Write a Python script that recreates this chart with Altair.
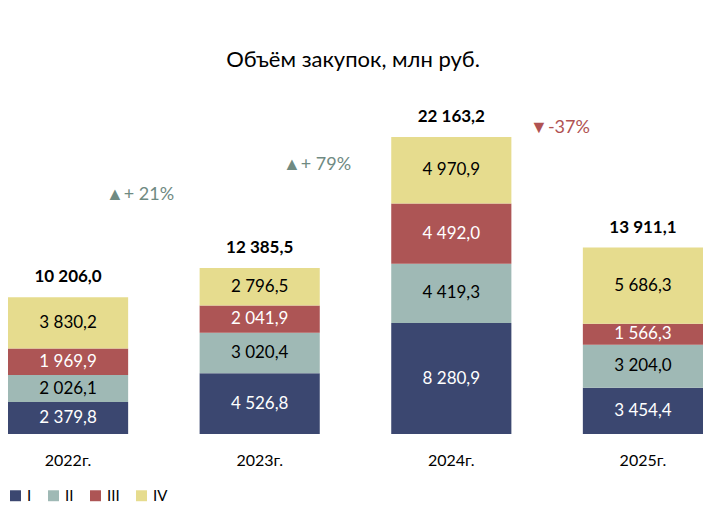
import altair as alt
import pandas as pd

years = ["2022г.", "2023г.", "2024г.", "2025г."]
quarters = ["I", "II", "III", "IV"]
q1 = [2379.8, 4526.8, 8280.9, 3454.4]
q2 = [2026.1, 3020.4, 4419.3, 3204.0]
q3 = [1969.9, 2041.9, 4492.0, 1566.3]
q4 = [3830.2, 2796.5, 4970.9, 5686.3]
totals = [10206.0, 12385.5, 22163.2, 13911.1]
colors = ["#3b4770", "#9fb9b5", "#ad5555", "#e6dc8e"]


def fmt(v):
    s = f"{v:,.1f}"
    return s.replace(",", " ").replace(".", ",")


rows = []
for i, y in enumerate(years):
    base = 0
    for q, vals in zip(quarters, [q1, q2, q3, q4]):
        v = vals[i]
        rows.append(dict(year=y, q=q, order=quarters.index(q), value=v,
                         mid=base + v / 2, label=fmt(v),
                         txt="white" if q in ("I", "III") else "black"))
        base += v
df = pd.DataFrame(rows)
tot = pd.DataFrame({"year": years, "total": totals, "label": [fmt(t) for t in totals]})

xenc = alt.X("year:N", sort=years, title=None,
             scale=alt.Scale(paddingInner=0.373, paddingOuter=0),
             axis=alt.Axis(domain=False, ticks=False, labelAngle=0, labelFontSize=16,
                           labelPadding=18, labelColor="black", labelFont="Lato"))
yscale = alt.Scale(domain=[0, 31789], nice=False)

bars = alt.Chart(df).mark_bar().encode(
    x=xenc,
    y=alt.Y("mid:Q", axis=None, scale=yscale, title=None, aggregate=None) if False else alt.Y("value:Q", stack="zero", axis=None, scale=yscale),
    color=alt.Color("q:N", sort=quarters, scale=alt.Scale(domain=quarters, range=colors),
                    legend=alt.Legend(title=None, orient="bottom", direction="horizontal",
                                      symbolType="square", symbolSize=120, labelFontSize=15,
                                      labelFont="Lato", columnPadding=14, offset=20)),
    order=alt.Order("order:Q"),
)
seg = alt.Chart(df).mark_text(fontSize=17, font="Lato").encode(
    x=alt.X("year:N", sort=years), y=alt.Y("mid:Q", scale=yscale),
    text="label:N", color=alt.Color("txt:N", scale=None),
)
top = alt.Chart(tot).mark_text(fontSize=17, font="Lato", fontWeight="bold", dy=-20).encode(
    x=alt.X("year:N", sort=years), y=alt.Y("total:Q", scale=yscale), text="label:N",
)
ann = pd.DataFrame({
    "t": ["Объём закупок, млн руб.", "▲+ 21%", "▲+ 79%", "▼-37%"],
    "px": [345, 132, 309, 552], "py": [52, 187, 157, 120],
    "c": ["black", "#6f8a82", "#6f8a82", "#b05252"],
    "s": [22, 18, 18, 18],
})
annot = alt.Chart(ann).mark_text(font="Lato").encode(
    x=alt.X("px:Q", scale=None), y=alt.Y("py:Q", scale=None), text="t:N",
    color=alt.Color("c:N", scale=None), size=alt.Size("s:Q", scale=None),
)

chart = alt.layer(bars, seg, top, annot).properties(
    width=695, height=426, padding={"left": 0, "top": 0, "right": 0, "bottom": 0},
    background="white",
).configure_view(stroke=None)
chart.save("out.html", embed_options={"renderer": "svg", "actions": False})
